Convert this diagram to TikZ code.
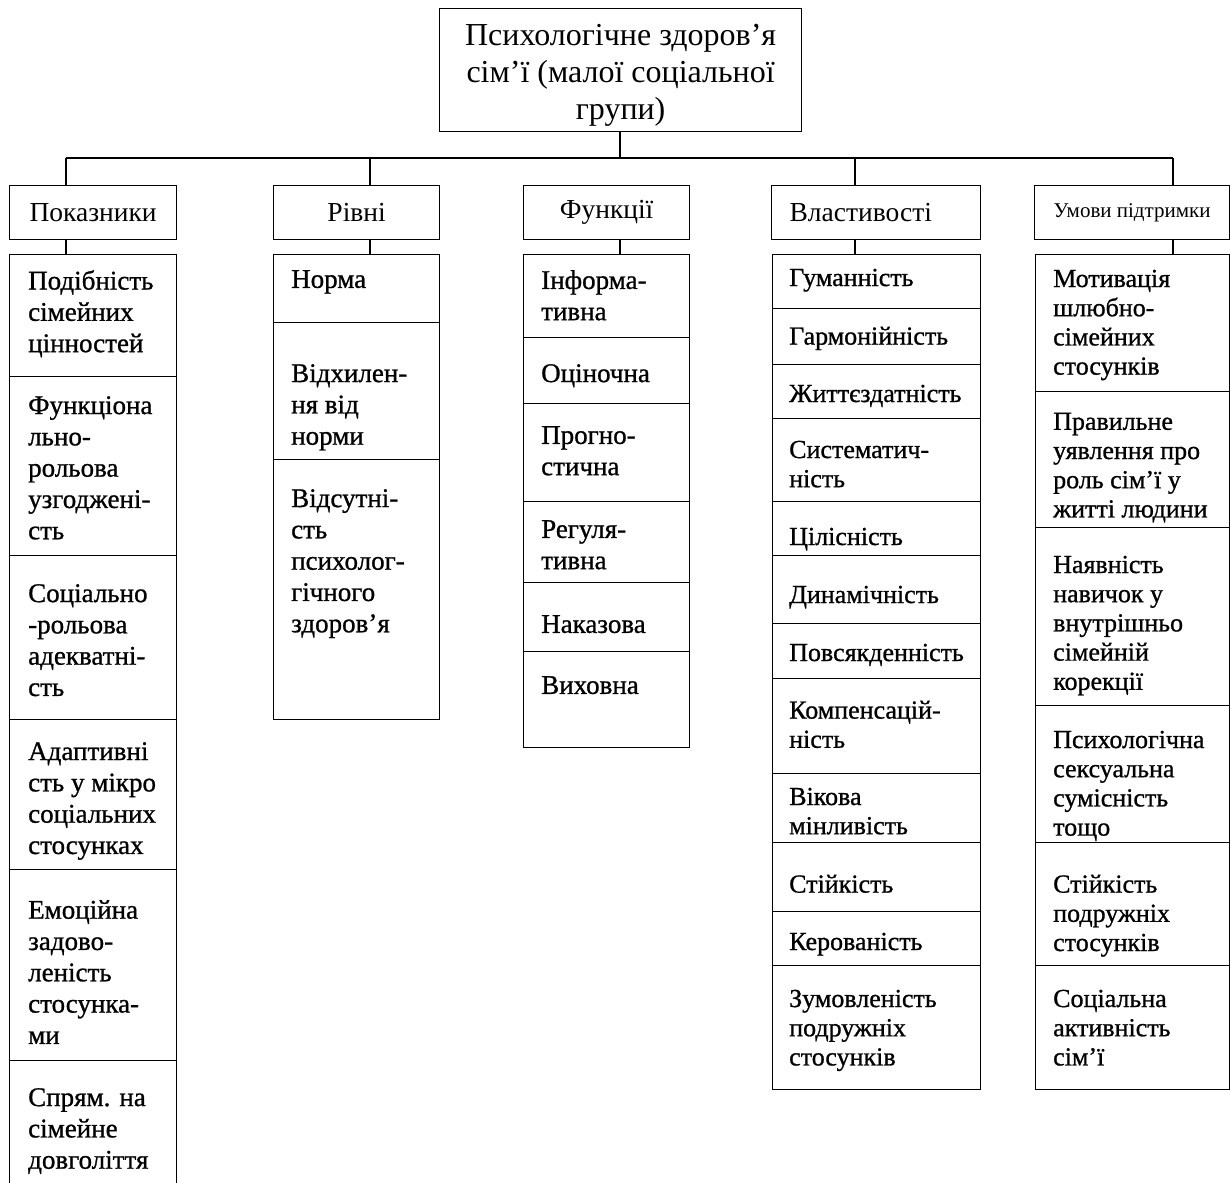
\documentclass[tikz,border=0pt]{standalone}
\usepackage{fontspec}
\setmainfont{Liberation Serif}
\newfontfamily\itemfont[FakeBold=0.9]{Liberation Serif}
\usetikzlibrary{positioning}

\tikzset{
  box/.style={draw, line width=1.2pt, inner sep=0pt, anchor=north west},
  link/.style={line width=1.2pt},
  head/.style={font=\fontsize{27.5}{31}\selectfont},
  item/.style={anchor=north west, yshift=18pt, align=left, inner sep=0pt, font=\itemfont\fontsize{27}{31.3}\selectfont},
  itemsm/.style={item, yshift=-0.6pt, font=\itemfont\fontsize{26}{29.2}\selectfont},
}

\begin{document}
\begin{tikzpicture}[x=1pt,y=-1pt]
	\clip (0,0) rectangle (1230,1182);
	% top box
	\node[box, align=center, minimum width=362, minimum height=123, text height=99pt, text depth=0pt, font=\fontsize{32}{37}\selectfont] (root) at (439,8) {Психологічне здоров’я\\сім’ї (малої соціальної\\групи)};
	% headings
	\node[box, head, minimum width=167, minimum height=54] (pok) at (9,185) {Показники};
	\node[box, head, minimum width=166, minimum height=54] (riv) at (273,185) {Рівні};
	\node[box, head, minimum width=166, minimum height=54] (fun) at (523,185) {Функції};
	\node[box, head, minimum height=54, text width=173, inner xsep=18, align=left] (vla) at (771,185) {Властивості};
	\node[box, minimum width=195, minimum height=54, font=\fontsize{21}{24}\selectfont] (umo) at (1034,185) {Умови підтримки};
	\coordinate (c1) at (66,158);
	\coordinate (c2) at (370,158);
	\coordinate (c3) at (620,158);
	\coordinate (c4) at (855,158);
	\coordinate (c5) at (1173,158);
	% Pokaznyky
	\foreach \ya/\yb/\yt/\lbl [count=\i] in {
		254/376/288/{Подібність\\сімейних\\цінностей},
		376/555/414/{Функціона\\льно-\\рольова\\узгоджені-\\сть},
		555/719/602/{Соціально\\-рольова\\адекватні-\\сть},
		719/869/760/{Адаптивні\\сть у мікро\\соціальних\\стосунках},
		869/1060/918/{Емоційна\\задово-\\леність\\стосунка-\\ми},
		1060/1200/1106/{Спрям. на\\сімейне\\довголіття}}{
		\node[box, minimum width=167, minimum height=\yb-\ya] (pok\i) at (9,\ya) {};
		\node[item] (pokt\i) at (28,\yt) {\lbl};
	}
	% Rivni
	\foreach \ya/\yb/\yt/\lbl [count=\i] in {
		254/322/288/{Норма},
		322/459/382/{Відхилен-\\ня від\\норми},
		459/719/507/{Відсутні-\\сть\\психолог-\\гічного\\здоров’я}}{
		\node[box, minimum width=166, minimum height=\yb-\ya] (riv\i) at (273,\ya) {};
		\node[item] (rivt\i) at (291,\yt) {\lbl};
	}
	% Funktsii
	\foreach \ya/\yb/\yt/\lbl [count=\i] in {
		254/337/288/{Інформа-\\тивна},
		337/403/382/{Оціночна},
		403/501/444/{Прогно-\\стична},
		501/582/538/{Регуля-\\тивна},
		582/651/633/{Наказова},
		651/747/694/{Виховна}}{
		\node[box, minimum width=166, minimum height=\yb-\ya] (fun\i) at (523,\ya) {};
		\node[item] (funt\i) at (541,\yt) {\lbl};
	}
	% Vlastyvosti
	\foreach \ya/\yb/\yt/\lbl [count=\i] in {
		254/308/286/{Гуманність},
		308/364/344/{Гармонійність},
		364/418/402/{Життєздатність},
		418/501/458/{Систематич-\\ність},
		501/555/545/{Цілісність},
		555/623/603/{Динамічність},
		623/678/661/{Повсякденність},
		678/773/718/{Компенсацій-\\ність},
		773/842/805/{Вікова\\мінливість},
		842/911/892/{Стійкість},
		911/965/950/{Керованість},
		965/1089/1007/{Зумовленість\\подружніх\\стосунків}}{
		\node[box, minimum width=208, minimum height=\yb-\ya] (vla\i) at (772,\ya) {};
		\node[itemsm] (vlat\i) at (789,\yt) {\lbl};
	}
	% Umovy
	\foreach \ya/\yb/\yt/\lbl [count=\i] in {
		254/391/287/{Мотивація\\шлюбно-\\сімейних\\стосунків},
		391/527/430/{Правильне\\уявлення про\\роль сім’ї у\\житті людини},
		527/705/573/{Наявність\\навичок у\\внутрішньо\\сімейній\\корекції},
		705/842/748/{Психологічна\\сексуальна\\сумісність\\тощо},
		842/965/892/{Стійкість\\подружніх\\стосунків},
		965/1089/1007/{Соціальна\\активність\\сім’ї}}{
		\node[box, minimum width=194, minimum height=\yb-\ya] (umo\i) at (1035,\ya) {};
		\node[itemsm] (umot\i) at (1053,\yt) {\lbl};
	}
	% connectors
	\draw[link] (root.south -| c3) -- (c3);
	\draw[link] (c1) -- (c5);
	\draw[link] (c1) -- (c1 |- pok.north);
	\draw[link] (c2) -- (c2 |- riv.north);
	\draw[link] (c4) -- (c4 |- vla.north);
	\draw[link] (c5) -- (c5 |- umo.north);
	\draw[link] (pok.south -| c1) -- (pok1.north -| c1);
	\draw[link] (riv.south -| c2) -- (riv1.north -| c2);
	\draw[link] (fun.south -| c3) -- (fun1.north -| c3);
	\draw[link] (vla.south -| c4) -- (vla1.north -| c4);
	\draw[link] (umo.south -| c5) -- (umo1.north -| c5);
\end{tikzpicture}
\end{document}
